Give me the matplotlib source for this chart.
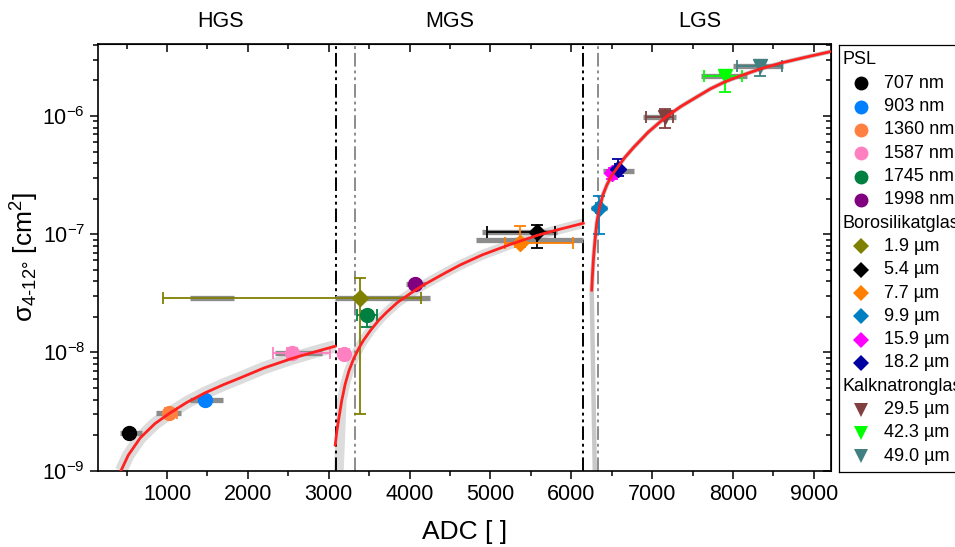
import numpy as np
import matplotlib
matplotlib.use('Agg')
import matplotlib.pyplot as plt
import matplotlib.transforms as mtransforms
from matplotlib.ticker import MultipleLocator, LogLocator, NullFormatter

plt.rcParams['font.family'] = ['Liberation Sans', 'DejaVu Sans']
plt.rcParams['mathtext.fontset'] = 'custom'
plt.rcParams['mathtext.rm'] = 'Liberation Sans'
plt.rcParams['mathtext.it'] = 'Liberation Sans:italic'
plt.rcParams['mathtext.default'] = 'regular'

# ---- data ----
names = ['707 nm', '903 nm', '1360 nm', '1587 nm', '1745 nm', '1998 nm',
         '1.9 µm', '5.4 µm', '7.7 µm', '9.9 µm', '15.9 µm', '18.2 µm',
         '29.5 µm', '42.3 µm', '49.0 µm']
colors = ['#000000', '#0080FF', '#FF8040', '#FF80C0', '#008040', '#800080',
          '#808000', '#000000', '#FF8000', '#0080C0', '#FF00FF', '#0000A0',
          '#804040', '#00FF00', '#408080']
markers = ['o'] * 6 + ['D'] * 6 + ['v'] * 3
groups = ['PSL', 'Borosilikatglas', 'Kalknatronglas']
group_size = [6, 6, 3]

adc = [525, 1469, 1028, 2545, 3472, 4069, 3389, 5580, 5367, 6343, 6507, 6574, 7159, 7900, 8333]
sigma = [2.07e-9, 4.0e-9, 3.05e-9, 9.9e-9, 2.07e-8, 3.79e-8, 2.87e-8, 1.05e-7, 8.5e-8,
         1.66e-7, 3.27e-7, 3.6e-7, 9.9e-7, 2.18e-6, 2.65e-6]
adc_lo = [525, 1469, 973, 2310, 3350, 4069, 954, 4962, 5181, 6300, 6470, 6540, 6924, 7641, 8045]
adc_hi = [525, 1469, 1121, 3018, 3595, 4069, 4142, 5799, 6025, 6385, 6545, 6620, 7262, 8107, 8601]
sig_lo = [2.07e-9, 4.0e-9, 3.05e-9, 9.0e-9, 1.65e-8, 3.79e-8, 3.04e-9, 7.6e-8, 7.8e-8,
          1.0e-7, 2.95e-7, 3.1e-7, 7.96e-7, 1.6e-6, 2.18e-6]
sig_hi = [2.07e-9, 4.0e-9, 3.05e-9, 1.09e-8, 2.25e-8, 3.79e-8, 4.3e-8, 1.2e-7, 1.17e-7,
          2.12e-7, 3.5e-7, 4.33e-7, 1.15e-6, 2.3e-6, 2.9e-6]
# grey ADC spread bars
spread_y = [2.07e-9, 4.0e-9, 3.05e-9, 9.9e-9, 3.79e-8, 2.87e-8, 2.87e-8, 1.05e-7, 9.0e-8,
            1.66e-7, 3.4e-7, 9.9e-7, 2.18e-6, 2.65e-6]
spread_lo = [424, 1289, 868, 2338, 3957, 1279, 3080, 4893, 4823, 6244, 6396, 6891, 7600, 8003]
spread_hi = [690, 1687, 1173, 2916, 4192, 1823, 4255, 5820, 6149, 6445, 6779, 7295, 8168, 8621]

# second 1587 nm point (MGS)
pink2_adc, pink2_sig, pink2_lo, pink2_hi = 3183, 9.8e-9, 9.0e-9, 1.08e-8

# fit curves
hgs_x = [431, 520, 670, 850, 1028, 1250, 1469, 1700, 1906, 2200, 2545, 2800, 3080]
hgs_y = [1.0e-9, 1.35e-9, 1.9e-9, 2.5e-9, 3.05e-9, 3.8e-9, 4.55e-9, 5.35e-9, 6.1e-9,
         7.4e-9, 8.9e-9, 1.0e-8, 1.13e-8]
mgs_x = [3080, 3100, 3121, 3160, 3203, 3250, 3306, 3370, 3430, 3520, 3620, 3719, 3850,
         4007, 4150, 4295, 4450, 4625, 4900, 5243, 5580, 5850, 6148]
mgs_y = [1.65e-9, 2.15e-9, 2.68e-9, 3.9e-9, 5.4e-9, 7.0e-9, 8.8e-9, 1.08e-8, 1.27e-8,
         1.55e-8, 1.88e-8, 2.2e-8, 2.65e-8, 3.15e-8, 3.65e-8, 4.15e-8, 4.75e-8, 5.5e-8,
         6.7e-8, 8.2e-8, 9.8e-8, 1.1e-7, 1.24e-7]
lgs_x = [6252, 6262, 6275, 6293, 6315, 6343, 6390, 6438, 6500, 6574, 6660, 6767, 6950,
         7159, 7350, 7550, 7720, 7900, 8100, 8333, 8600, 8900, 9239]
lgs_y = [3.37e-8, 4.6e-8, 6.4e-8, 8.9e-8, 1.25e-7, 1.62e-7, 2.15e-7, 2.6e-7, 3.15e-7,
         3.7e-7, 4.45e-7, 5.4e-7, 7.3e-7, 9.7e-7, 1.2e-6, 1.45e-6, 1.7e-6, 1.95e-6,
         2.2e-6, 2.5e-6, 2.82e-6, 3.15e-6, 3.55e-6]
band_start_mgs = (3125, 1e-9)
band_start_lgs = (6290, 1e-9)

gain_limits = [3085, 6150]
gain_centers = [3327, 6333]
regions = ['HGS', 'MGS', 'LGS']
region_x = [1659, 4495, 7591]

# ---- figure ----
fig = plt.figure(figsize=(9.55, 5.47), dpi=100)
ax = fig.add_axes([98.3 / 955, 1 - 470.7 / 547, (831.3 - 98.3) / 955, (470.7 - 44) / 547])
ax.set_yscale('log')
ax.set_xlim(150, 9215)
ax.set_ylim(1e-9, 4.07e-6)

# grey bands and red fit
ax.plot(hgs_x, hgs_y, color='#dcdcdc', lw=9, solid_capstyle='butt', zorder=1)
ax.plot([band_start_mgs[0]] + mgs_x[3:], [band_start_mgs[1]] + mgs_y[3:], color='#dcdcdc', lw=7,
        solid_capstyle='butt', zorder=1)
ax.plot([band_start_lgs[0]] + lgs_x, [band_start_lgs[1]] + lgs_y, color='#c8c8c8', lw=3.2,
        solid_capstyle='butt', zorder=1)

for xv in gain_limits:
    ax.axvline(xv, color='black', lw=1.4, ls=(0, (7, 2, 1.5, 2, 1.5, 2)), zorder=2)
for xv in gain_centers:
    ax.axvline(xv, color='#8c8c8c', lw=1.4, ls=(0, (7, 2, 1.5, 2, 1.5, 2)), zorder=2)

ax.hlines(spread_y, spread_lo, spread_hi, color='#8c8c8c', lw=3.8, zorder=2)


def msize(m):
    return 10 if m == 'o' else (8.5 if m == 'D' else 10.5)


for i in range(len(names)):
    xe = None
    ye = None
    if adc_hi[i] != adc_lo[i]:
        xe = [[adc[i] - adc_lo[i]], [adc_hi[i] - adc[i]]]
    if sig_hi[i] != sig_lo[i]:
        ye = [[sigma[i] - sig_lo[i]], [sig_hi[i] - sigma[i]]]
    ax.errorbar([adc[i]], [sigma[i]], xerr=xe, yerr=ye, fmt=markers[i], color=colors[i],
                mec=colors[i], ms=msize(markers[i]), elinewidth=1.3, capsize=4.5, capthick=1.3,
                zorder=4)
ax.errorbar([pink2_adc], [pink2_sig], yerr=[[pink2_sig - pink2_lo], [pink2_hi - pink2_sig]],
            fmt='o', color=colors[3], mec=colors[3], ms=10, elinewidth=1.3, capsize=4.5,
            capthick=1.3, zorder=4)

ax.plot(hgs_x, hgs_y, color='#ff2020', lw=2, zorder=5)
ax.plot(mgs_x, mgs_y, color='#ff2020', lw=2, zorder=5)
ax.plot(lgs_x, lgs_y, color='#ff2020', lw=2, zorder=5)

# axes styling
ax.xaxis.set_major_locator(MultipleLocator(1000))
ax.xaxis.set_minor_locator(MultipleLocator(500))
ax.yaxis.set_major_locator(LogLocator(base=10, numticks=10))
ax.yaxis.set_minor_locator(LogLocator(base=10, subs=np.arange(2, 10), numticks=20))
ax.yaxis.set_minor_formatter(NullFormatter())
for s in ax.spines.values():
    s.set_linewidth(1.2)
ax.tick_params(which='both', direction='out', width=1.1, labelsize=15.5, top=False, right=False)
ax.tick_params(which='major', length=6)
ax.tick_params(which='minor', length=3.5)

# mirrored inward ticks on top / right
axt = ax.secondary_xaxis('top')
axt.xaxis.set_major_locator(MultipleLocator(1000))
axt.xaxis.set_minor_locator(MultipleLocator(500))
axt.tick_params(which='both', direction='in', width=1.1, labeltop=False)
axt.tick_params(which='major', length=6)
axt.tick_params(which='minor', length=3.5)
axr = ax.secondary_yaxis('right')
axr.yaxis.set_major_locator(LogLocator(base=10, numticks=10))
axr.yaxis.set_minor_locator(LogLocator(base=10, subs=np.arange(2, 10), numticks=20))
axr.tick_params(which='both', direction='in', width=1.1, labelright=False)
axr.tick_params(which='major', length=6)
axr.tick_params(which='minor', length=3.5)

ax.set_xlabel('ADC [ ]', fontsize=19, labelpad=11)
ax.set_ylabel(r'$\sigma_{4\text{-}12°}$ [cm$^2$]', fontsize=19, labelpad=1)

trans = mtransforms.blended_transform_factory(ax.transData, ax.transAxes)
for name, xv in zip(regions, region_x):
    ax.text(xv, 1.052, name, transform=trans, ha='center', va='center', fontsize=15.5)

# legend box (grouped, Origin style)
lax = fig.add_axes([839 / 955, 1 - 472 / 547, 0.3, (472 - 45) / 547])
lax.set_xlim(839, 839 + 0.3 * 955)
lax.set_ylim(472, 45)
lax.set_xticks([])
lax.set_yticks([])
for s in lax.spines.values():
    s.set_linewidth(0.9)
lax.spines['right'].set_visible(False)
row_y = 60
k = 0
for g, n in zip(groups, group_size):
    lax.text(842, row_y, g, fontsize=13, va='center', ha='left')
    row_y += 23.3
    for j in range(n):
        lax.plot([861], [row_y], marker=markers[k], color=colors[k], ms=msize(markers[k]), mew=0)
        lax.text(884, row_y, names[k], fontsize=13, va='center', ha='left')
        row_y += 23.3
        k += 1

fig.savefig('out.png', dpi=100)
